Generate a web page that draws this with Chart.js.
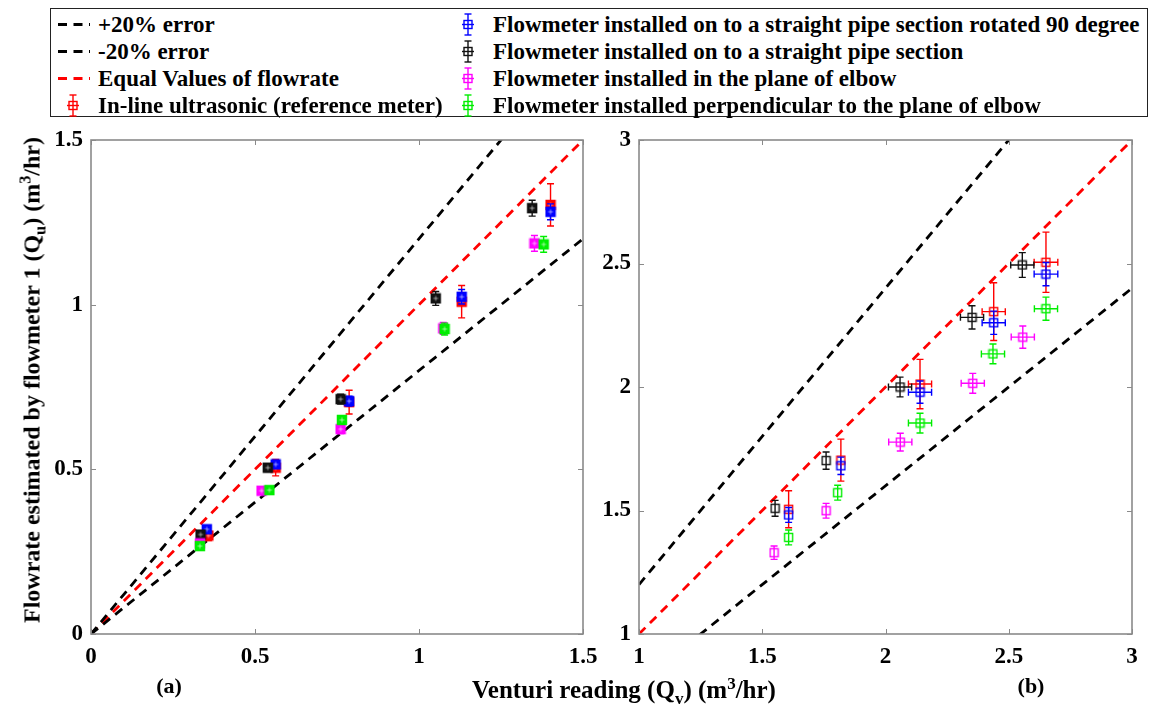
<!DOCTYPE html>
<html>
<head>
<meta charset="utf-8">
<script src="https://cdn.jsdelivr.net/npm/chart.js@4.4.1/dist/chart.umd.min.js"></script>
<style>
  html, body { margin: 0; padding: 0; background: #fff; }
  body { width: 1150px; height: 711px; position: relative; overflow: hidden;
         font-family: "Liberation Serif", "DejaVu Serif", serif; font-weight: bold; color: #000; }
  canvas.plot { position: absolute; left: 0; top: 0; }
  .txt { position: absolute; white-space: nowrap; }
  .legend-box { position: absolute; left: 50px; top: 8px; width: 1098px; height: 109px;
                border: 1px solid #222; box-sizing: border-box; background: #fff; z-index: 2; }
  .leg-item { position: absolute; font-size: 23px; line-height: 27px; height: 27px; white-space: nowrap; }
  .leg-item svg { position: absolute; top: 0; }
  sub, sup { font-size: 0.68em; line-height: 0; }
  sub { vertical-align: -0.35em; }
  sup { vertical-align: 0.55em; }
  .title { font-size: 24px; z-index: 3; }
</style>
</head>
<body>

<canvas id="chartA" class="plot" width="1150" height="711"></canvas>
<canvas id="chartB" class="plot" width="1150" height="711"></canvas>

<div class="legend-box" id="legend"></div>

<div class="txt title" id="yTitle"
     style="left:32px; top:380px; transform: translate(-50%,-50%) rotate(-90deg);">
  Flowrate estimated by flowmeter 1 (Q<sub>u</sub>) (m<sup>3</sup>/hr)</div>
<div class="txt title" id="xTitle"
     style="left:624px; top:690px; transform: translate(-50%,-50%); font-size:25px;">
  Venturi reading (Q<sub>v</sub>) (m<sup>3</sup>/hr)</div>
<div class="txt title" style="left:169px; top:686px; transform: translate(-50%,-50%); font-size:22px;">(a)</div>
<div class="txt title" style="left:1031px; top:686px; transform: translate(-50%,-50%); font-size:22px;">(b)</div>

<script>
// ---------- series labels ----------
const guideNames = ['+20% error', '-20% error', 'Equal Values of flowrate'];
const seriesNames = [
  'In-line ultrasonic (reference meter)',
  'Flowmeter installed on to a straight pipe section rotated 90 degree',
  'Flowmeter installed on to a straight pipe section',
  'Flowmeter installed in the plane of elbow',
  'Flowmeter installed perpendicular to the plane of elbow'
];
const seriesColors = ['#ff0000', '#0000ff', '#111111', '#ff00ff', '#00ee00'];

// ---------- panel (a): low flow range ----------
const ticksA = [0, 0.5, 1, 1.5];
const guideXA     = [0, 1.5];
const guideUpperA = [0, 1.8];
const guideLowerA = [0, 1.2];
const guideEqualA = [0, 1.5];

const qvA_ref   = [0.358, 0.563, 0.787, 1.130, 1.401];
const quA_ref   = [0.299, 0.505, 0.704, 1.009, 1.303];
const errA_ref  = [0.015, 0.025, 0.036, 0.049, 0.064];

const qvA_rot   = [0.353, 0.563, 0.787, 1.130, 1.401];
const quA_rot   = [0.318, 0.515, 0.707, 1.024, 1.282];
const errA_rot  = [0.010, 0.012, 0.015, 0.022, 0.024];

const qvA_str   = [0.334, 0.539, 0.761, 1.051, 1.345];
const quA_str   = [0.302, 0.505, 0.713, 1.019, 1.293];
const errA_str  = [0.010, 0.012, 0.015, 0.021, 0.024];

const qvA_inpl  = [0.332, 0.520, 0.761, 1.074, 1.352];
const quA_inpl  = [0.275, 0.435, 0.622, 0.928, 1.186];
const errA_inpl = [0.008, 0.010, 0.013, 0.018, 0.024];

const qvA_perp  = [0.332, 0.544, 0.765, 1.078, 1.380];
const quA_perp  = [0.267, 0.437, 0.650, 0.926, 1.183];
const errA_perp = [0.008, 0.010, 0.013, 0.018, 0.024];

// ---------- panel (b): high flow range ----------
const ticksB = [1, 1.5, 2, 2.5, 3];
const guideXB     = [1, 3];
const guideUpperB = [1.2, 3.6];
const guideLowerB = [0.8, 2.4];
const guideEqualB = [1, 3];

const qvB_ref    = [1.607, 1.819, 2.140, 2.439, 2.651];
const quB_ref    = [1.505, 1.704, 2.012, 2.305, 2.505];
const errYB_ref  = [0.075, 0.085, 0.100, 0.117, 0.122];
const errXB_ref  = [0, 0, 0.047, 0.047, 0.048];

const qvB_rot    = [1.607, 1.819, 2.140, 2.439, 2.651];
const quB_rot    = [1.482, 1.681, 1.979, 2.260, 2.457];
const errYB_rot  = [0.030, 0.035, 0.045, 0.047, 0.047];
const errXB_rot  = [0, 0, 0.047, 0.047, 0.048];

const qvB_str    = [1.552, 1.759, 2.059, 2.351, 2.555];
const quB_str    = [1.509, 1.702, 2.000, 2.282, 2.494];
const errYB_str  = [0.032, 0.035, 0.040, 0.047, 0.050];
const errXB_str  = [0, 0, 0.047, 0.047, 0.047];

const qvB_inpl   = [1.548, 1.759, 2.060, 2.354, 2.557];
const quB_inpl   = [1.329, 1.499, 1.777, 2.015, 2.202];
const errYB_inpl = [0.027, 0.030, 0.036, 0.040, 0.045];
const errXB_inpl = [0, 0, 0.047, 0.047, 0.047];

const qvB_perp   = [1.607, 1.806, 2.140, 2.436, 2.651];
const quB_perp   = [1.391, 1.572, 1.854, 2.134, 2.317];
const errYB_perp = [0.030, 0.030, 0.040, 0.040, 0.047];
const errXB_perp = [0, 0, 0.047, 0.047, 0.047];

// ---------- helpers ----------
const zip = (xs, ys) => xs.map((x, i) => ({ x: x, y: ys[i] }));

// square marker; the low-range panel uses a filled square, the high-range one an outline
function squareMarker(color, filled) {
  const s = filled ? 9 : 8;
  const c = document.createElement('canvas');
  c.width = s + 3; c.height = s + 3;
  const g = c.getContext('2d');
  const o = 1.5;
  if (filled) {
    g.fillStyle = color;
    g.fillRect(o, o, s, s);
    g.strokeStyle = 'rgba(255,255,255,0.55)';
    g.lineWidth = 1;
    g.beginPath();
    g.moveTo(o + s / 2, o + 2); g.lineTo(o + s / 2, o + s - 2);
    g.moveTo(o + 2, o + s / 2); g.lineTo(o + s - 2, o + s / 2);
    g.stroke();
    g.strokeStyle = color; g.lineWidth = 1.4;
    g.strokeRect(o, o, s, s);
  } else {
    g.strokeStyle = color; g.lineWidth = 1.4;
    g.strokeRect(o, o, s, s);
  }
  return c;
}

function guideSet(label, xs, ys, color) {
  return {
    label: label, data: zip(xs, ys), showLine: true, pointRadius: 0,
    borderColor: color, borderWidth: 2.8, borderDash: [9, 6.5], order: 10
  };
}

function seriesSet(idx, xs, ys, errY, errX, filled) {
  const col = seriesColors[idx];
  return {
    label: seriesNames[idx], data: zip(xs, ys), showLine: false,
    pointStyle: squareMarker(col, filled), pointRadius: 5,
    borderColor: col, backgroundColor: col,
    errY: errY, errX: errX, order: 5 - idx
  };
}

// error bars are drawn right before the markers of each series
const errorBars = {
  id: 'errorBars',
  beforeDatasetDraw(chart, args) {
    const ds = chart.data.datasets[args.index];
    if (!ds.errY) return;
    const ctx = chart.ctx, xs = chart.scales.x, ys = chart.scales.y;
    const cap = 3.5;
    ctx.save();
    ctx.strokeStyle = ds.borderColor;
    ctx.lineWidth = 1.4;
    ctx.beginPath();
    ds.data.forEach((p, i) => {
      const px = xs.getPixelForValue(p.x), py = ys.getPixelForValue(p.y);
      const ey = ds.errY[i] || 0;
      if (ey > 0) {
        const t = ys.getPixelForValue(p.y + ey), b = ys.getPixelForValue(p.y - ey);
        ctx.moveTo(px, t); ctx.lineTo(px, b);
        ctx.moveTo(px - cap, t); ctx.lineTo(px + cap, t);
        ctx.moveTo(px - cap, b); ctx.lineTo(px + cap, b);
      }
      const ex = ds.errX ? (ds.errX[i] || 0) : 0;
      if (ex > 0) {
        const l = xs.getPixelForValue(p.x - ex), r = xs.getPixelForValue(p.x + ex);
        ctx.moveTo(l, py); ctx.lineTo(r, py);
        ctx.moveTo(l, py - cap); ctx.lineTo(l, py + cap);
        ctx.moveTo(r, py - cap); ctx.lineTo(r, py + cap);
      }
    });
    ctx.stroke();
    ctx.restore();
  }
};

// plot box with inward tick marks on all four sides
const boxFrame = {
  id: 'boxFrame',
  afterDraw(chart) {
    const ctx = chart.ctx, a = chart.chartArea;
    const xs = chart.scales.x, ys = chart.scales.y;
    const len = 5;
    ctx.save();
    ctx.strokeStyle = '#8a8a8a';
    ctx.lineWidth = 1;
    ctx.beginPath();
    xs.ticks.forEach(t => {
      const px = Math.round(xs.getPixelForValue(t.value)) + 0.5;
      ctx.moveTo(px, a.bottom); ctx.lineTo(px, a.bottom - len);
      ctx.moveTo(px, a.top); ctx.lineTo(px, a.top + len);
    });
    ys.ticks.forEach(t => {
      const py = Math.round(ys.getPixelForValue(t.value)) + 0.5;
      ctx.moveTo(a.left, py); ctx.lineTo(a.left + len, py);
      ctx.moveTo(a.right, py); ctx.lineTo(a.right - len, py);
    });
    ctx.stroke();
    ctx.lineWidth = 1.6;
    ctx.strokeRect(a.left, a.top, a.right - a.left, a.bottom - a.top);
    ctx.restore();
  }
};

const tickFont = { family: '"Liberation Serif", serif', size: 23, weight: 'bold' };

function axes(tickVals, yWidth) {
  const common = (vals) => ({
    type: 'linear', min: vals[0], max: vals[vals.length - 1],
    grid: { display: false, drawTicks: false },
    border: { display: false },
    afterBuildTicks: s => { s.ticks = vals.map(v => ({ value: v })); },
    ticks: { color: '#000', font: tickFont, callback: v => String(v), maxRotation: 0, autoSkip: false }
  });
  const x = common(tickVals);
  x.ticks.padding = 9;
  x.afterFit = s => { s.height = 77; };
  const y = common(tickVals);
  y.ticks.padding = 8;
  y.afterFit = s => { s.width = yWidth; };
  return { x: x, y: y };
}

function makeChart(id, datasets, tickVals, padding, yWidth) {
  return new Chart(document.getElementById(id), {
    type: 'scatter',
    data: { datasets: datasets },
    options: {
      responsive: false, animation: false, devicePixelRatio: 1,
      layout: { padding: padding },
      plugins: { legend: { display: false }, tooltip: { enabled: false } },
      scales: axes(tickVals, yWidth)
    },
    plugins: [errorBars, boxFrame]
  });
}

makeChart('chartA', [
  guideSet(guideNames[0], guideXA, guideUpperA, '#000'),
  guideSet(guideNames[1], guideXA, guideLowerA, '#000'),
  guideSet(guideNames[2], guideXA, guideEqualA, '#ff0000'),
  seriesSet(0, qvA_ref,  quA_ref,  errA_ref,  null, true),
  seriesSet(1, qvA_rot,  quA_rot,  errA_rot,  null, true),
  seriesSet(2, qvA_str,  quA_str,  errA_str,  null, true),
  seriesSet(3, qvA_inpl, quA_inpl, errA_inpl, null, true),
  seriesSet(4, qvA_perp, quA_perp, errA_perp, null, true)
], ticksA, { left: 0, top: 140, right: 567, bottom: 0 }, 91);

makeChart('chartB', [
  guideSet(guideNames[0], guideXB, guideUpperB, '#000'),
  guideSet(guideNames[1], guideXB, guideLowerB, '#000'),
  guideSet(guideNames[2], guideXB, guideEqualB, '#ff0000'),
  seriesSet(0, qvB_ref,  quB_ref,  errYB_ref,  errXB_ref,  false),
  seriesSet(1, qvB_rot,  quB_rot,  errYB_rot,  errXB_rot,  false),
  seriesSet(2, qvB_str,  quB_str,  errYB_str,  errXB_str,  false),
  seriesSet(3, qvB_inpl, quB_inpl, errYB_inpl, errXB_inpl, false),
  seriesSet(4, qvB_perp, quB_perp, errYB_perp, errXB_perp, false)
], ticksB, { left: 590, top: 140, right: 18, bottom: 0 }, 49);

// ---------- legend ----------
const legend = document.getElementById('legend');
const rowTop = [2, 29, 56, 83];

function dashIcon(color) {
  return '<svg width="40" height="27" style="left:-44px"><line x1="4" y1="13.5" x2="36" y2="13.5" stroke="' +
    color + '" stroke-width="2.8" stroke-dasharray="9 6.5"/></svg>';
}
function errIcon(color) {
  return '<svg width="20" height="27" style="left:-35px">' +
    '<g stroke="' + color + '" stroke-width="1.4" fill="none">' +
    '<line x1="10" y1="3" x2="10" y2="24"/><line x1="6.5" y1="3" x2="13.5" y2="3"/>' +
    '<line x1="6.5" y1="24" x2="13.5" y2="24"/><line x1="4" y1="13.5" x2="16" y2="13.5"/>' +
    '<rect x="6" y="9.5" width="8" height="8"/></g></svg>';
}
function addItem(left, row, icon, text) {
  const d = document.createElement('div');
  d.className = 'leg-item';
  d.style.left = left + 'px';
  d.style.top = rowTop[row] + 'px';
  d.innerHTML = icon;
  d.appendChild(document.createTextNode(text));
  legend.appendChild(d);
}
addItem(47, 0, dashIcon('#000'), guideNames[0]);
addItem(47, 1, dashIcon('#000'), guideNames[1]);
addItem(47, 2, dashIcon('#ff0000'), guideNames[2]);
addItem(47, 3, errIcon(seriesColors[0]), seriesNames[0]);
addItem(442, 0, errIcon(seriesColors[1]), seriesNames[1]);
addItem(442, 1, errIcon(seriesColors[2]), seriesNames[2]);
addItem(442, 2, errIcon(seriesColors[3]), seriesNames[3]);
addItem(442, 3, errIcon(seriesColors[4]), seriesNames[4]);
</script>
</body>
</html>
